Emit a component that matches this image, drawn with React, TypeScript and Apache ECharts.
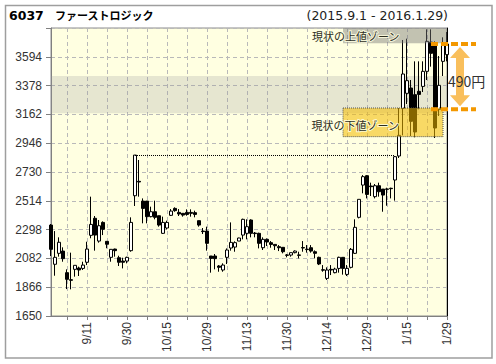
import React, { useEffect, useRef } from 'react';
import * as echarts from 'echarts';

// trading days (category axis)
const dates = [
  '8/31',
  '9/1', '9/2', '9/3', '9/4', '9/7', '9/8', '9/9', '9/10', '9/11', '9/14', '9/15', '9/16', '9/17', '9/18', '9/24', '9/25', '9/28', '9/29', '9/30',
  '10/1', '10/2', '10/5', '10/6', '10/7', '10/8', '10/9', '10/13', '10/14', '10/15', '10/16', '10/19', '10/20', '10/21', '10/22', '10/23', '10/26', '10/27', '10/28', '10/29', '10/30',
  '11/2', '11/4', '11/5', '11/6', '11/9', '11/10', '11/11', '11/12', '11/13', '11/16', '11/17', '11/18', '11/19', '11/20', '11/24', '11/25', '11/26', '11/27', '11/30',
  '12/1', '12/2', '12/3', '12/4', '12/7', '12/8', '12/9', '12/10', '12/11', '12/14', '12/15', '12/16', '12/17', '12/18', '12/21', '12/22', '12/24', '12/25', '12/28', '12/29', '12/30',
  '1/4', '1/5', '1/6', '1/7', '1/8', '1/12', '1/13', '1/14', '1/15', '1/18', '1/19', '1/20', '1/21', '1/22', '1/25', '1/26', '1/27', '1/28', '1/29',
];

const opens = [
  2332, 2038, 2120, 2137, 1975, 1922, 2000, 2010, 2007, 2053,
  2255, 2383, 2212, 2352, 2210, 2090, 2152, 2087, 2062, 2062,
  2140, 2552, 2660, 2512, 2512, 2395, 2432, 2402, 2270, 2310,
  2405, 2457, 2427, 2420, 2427, 2427, 2425, 2365, 2287, 2287,
  2100, 2100, 2025, 1995, 2090, 2160, 2167, 2212, 2257, 2270,
  2370, 2272, 2270, 2162, 2225, 2200, 2187, 2170, 2165, 2108,
  2107, 2125, 2108, 2163, 2151, 2162, 2132, 2090, 1997, 1932,
  2000, 1975, 2007, 2090, 1962, 2015, 2120, 2390, 2632, 2702,
  2625, 2545, 2627, 2602, 2603, 2608, 2670, 2850, 3207, 3320,
  3360, 3310, 3335, 3372, 3485, 3705, 3700, 3200, 3560, 3610,
];
const closes = [
  2150, 2090, 2203, 2080, 1925, 1918, 2030, 1995, 2032, 2152,
  2337, 2257, 2327, 2300, 2188, 2150, 2140, 2053, 2053, 2090,
  2352, 2857, 2655, 2457, 2395, 2432, 2390, 2332, 2352, 2352,
  2437, 2440, 2415, 2407, 2412, 2420, 2412, 2332, 2283, 2195,
  2082, 2080, 2015, 2032, 2145, 2202, 2200, 2235, 2375, 2320,
  2270, 2268, 2195, 2225, 2205, 2187, 2177, 2162, 2132, 2105,
  2125, 2137, 2105, 2160, 2148, 2137, 2120, 2040, 1994, 1995,
  1995, 2002, 2090, 2007, 2007, 2150, 2315, 2525, 2695, 2562,
  2620, 2627, 2582, 2557, 2600, 2605, 2845, 3005, 3465, 3415,
  3110, 3030, 3312, 3485, 3710, 3620, 3060, 3380, 3700, 3690,
];
const lows = [
  2100, 1952, 2095, 2057, 1852, 1850, 1945, 1950, 1995, 2032,
  2233, 2140, 2200, 2257, 2158, 2057, 2095, 2025, 2007, 2045,
  2132, 2475, 2545, 2345, 2345, 2390, 2375, 2320, 2265, 2300,
  2400, 2432, 2400, 2395, 2402, 2395, 2390, 2320, 2265, 2140,
  1975, 2000, 1982, 1982, 2040, 2140, 2132, 2212, 2225, 2225,
  2240, 2240, 2157, 2145, 2175, 2162, 2145, 2137, 2120, 2090,
  2095, 2120, 2082, 2132, 2125, 2125, 2082, 2032, 1982, 1920,
  1957, 1970, 1975, 1960, 1950, 2007, 2115, 2382, 2570, 2532,
  2550, 2532, 2545, 2432, 2477, 2532, 2515, 2835, 3005, 3240,
  3000, 2990, 3200, 3330, 3420, 3520, 2985, 3150, 3450, 3560,
];
const highs = [
  2340, 2287, 2240, 2165, 2000, 2125, 2030, 2020, 2057, 2207,
  2545, 2400, 2370, 2360, 2212, 2152, 2155, 2102, 2087, 2095,
  2390, 2857, 2820, 2532, 2512, 2470, 2515, 2402, 2395, 2365,
  2452, 2465, 2452, 2420, 2450, 2450, 2440, 2365, 2310, 2320,
  2100, 2115, 2032, 2045, 2157, 2352, 2210, 2237, 2380, 2375,
  2375, 2280, 2275, 2240, 2232, 2212, 2187, 2182, 2165, 2115,
  2125, 2142, 2132, 2212, 2182, 2182, 2142, 2095, 2032, 2015,
  2032, 2012, 2095, 2090, 2032, 2160, 2375, 2525, 2707, 2707,
  2650, 2640, 2650, 2602, 2612, 2612, 2850, 3210, 3720, 3730,
  3420, 3560, 3560, 3560, 3800, 3800, 3710, 3600, 3740, 3780,
];

// y axis ticks
const yMin = 1650;
const yMax = 3810;
const yStep = 216;

// annotations
const resistanceLevel = 2857;
const resistanceFrom = '10/2';
const resistanceTo = '1/12';
const bandTop = 3450;
const bandBottom = 3170;
const upperZone = [3810, 3695];
const lowerZone = [3210, 2995];
const zoneFrom = '12/18';
const upperZoneTo = '1/29';
const lowerZoneTo = '1/28';
const rangeTop = 3690;
const rangeBottom = 3200;

const labelFont = 'Liberation Sans';
const cjkFont = '"Noto Sans CJK JP"';

export default function App() {
  const ref = useRef<HTMLDivElement>(null);
  useEffect(() => {
    const chart = echarts.init(ref.current as HTMLDivElement, null, { renderer: 'svg', width: 496, height: 364 });
    const candles = dates.map((_, i) => [opens[i], closes[i], lows[i], highs[i]]);
    const gridLine = { color: '#b9b9b9', type: [4, 3] as any, width: 1 };
    const option: any = {
      animation: false,
      backgroundColor: '#ffffff',
      grid: {
        left: 51, right: 49, top: 28, bottom: 48,
        show: true, backgroundColor: '#ffffe1', borderColor: '#8c8c8c', borderWidth: 1,
      },
      xAxis: {
        type: 'category',
        data: dates,
        boundaryGap: false,
        axisLine: { lineStyle: { color: '#808080', width: 1 } },
        axisTick: { show: true, length: 4, interval: (i: number) => i % 5 === 4, lineStyle: { color: '#808080' } },
        axisLabel: {
          interval: (i: number) => i % 10 === 9,
          rotate: 90, margin: 6, fontSize: 12, color: '#333', fontFamily: labelFont,
        },
        splitLine: { show: true, interval: (i: number) => i % 5 === 4, lineStyle: gridLine },
      },
      yAxis: [
        {
          type: 'value', min: yMin, max: yMax, interval: yStep,
          axisLine: { show: true, lineStyle: { color: '#808080' } },
          axisTick: { show: true, length: 5, lineStyle: { color: '#808080' } },
          axisLabel: {
            margin: 9, fontSize: 12, color: '#333', fontFamily: labelFont,
            formatter: (v: number) => (v >= yMax ? '' : String(v)),
          },
          splitLine: { show: true, lineStyle: gridLine },
        },
        {
          type: 'value', position: 'right', min: yMin, max: yMax,
          axisLine: { show: true, onZero: false, lineStyle: { color: '#000', width: 1 } },
          axisTick: { show: false }, axisLabel: { show: false }, splitLine: { show: false },
        },
      ],
      series: [
        {
          type: 'candlestick',
          data: candles,
          barWidth: 3,
          clip: false,
          itemStyle: {
            color: '#ffffff', color0: '#000000',
            borderColor: '#000000', borderColor0: '#000000', borderColorDoji: '#000000',
            borderWidth: 1,
          },
          markArea: {
            silent: true,
            itemStyle: { color: 'rgba(150,150,155,0.24)' },
            data: [[{ coord: [dates[0], bandTop] }, { coord: [dates[dates.length - 1], bandBottom] }]],
          },
          markLine: {
            silent: true,
            symbol: ['none', 'none'],
            label: { show: false },
            lineStyle: { type: 'dotted', color: '#000', width: 1 },
            data: [[{ coord: [resistanceFrom, resistanceLevel] }, { coord: [resistanceTo, resistanceLevel] }]],
          },
        },
        {
          type: 'line',
          data: [],
          z: 5,
          silent: true,
          markArea: {
            z: 5,
            silent: true,
            label: {
              show: true, position: 'insideLeft', fontSize: 11, color: '#2e2e1e', fontFamily: cjkFont,
              textBorderColor: 'rgba(255,255,225,0.85)', textBorderWidth: 2,
            },
            data: [
              [
                {
                  name: '現状の上値ゾーン', coord: [zoneFrom, upperZone[0]],
                  itemStyle: { color: 'rgba(120,120,120,0.45)' },
                  label: { offset: [-36, 0] },
                },
                { coord: [upperZoneTo, upperZone[1]] },
              ],
              [
                {
                  name: '現状の下値ゾーン', coord: [zoneFrom, lowerZone[0]],
                  itemStyle: { color: 'rgba(242,185,0,0.55)', borderColor: '#555', borderWidth: 1, borderType: 'dotted' },
                  label: { offset: [-36, 3] },
                },
                { coord: [lowerZoneTo, lowerZone[1]] },
              ],
            ],
          },
        },
      ],
    };
    chart.setOption(option);

    const yT = chart.convertToPixel({ yAxisIndex: 0 }, rangeTop) as number;
    const yB = chart.convertToPixel({ yAxisIndex: 0 }, rangeBottom) as number;
    const cx = 460;
    const t = yT + 3;
    const b = yB - 3;
    const arrow = [
      [cx, t], [cx + 10, t + 11], [cx + 4, t + 11], [cx + 4, b - 11], [cx + 10, b - 11],
      [cx, b], [cx - 10, b - 11], [cx - 4, b - 11], [cx - 4, t + 11], [cx - 10, t + 11],
    ];
    chart.setOption({
      graphic: [
        {
          type: 'rect', z: 20, silent: true,
          shape: { x: 5.5, y: 5.5, width: 486.5, height: 352.5 },
          style: { fill: 'none', stroke: '#9e9e9e', lineWidth: 1.5 },
        },
        {
          type: 'text', z: 20, x: 9, y: 15,
          style: { text: '6037', font: 'bold 12.5px "DejaVu Sans"', fill: '#000', textVerticalAlign: 'middle' },
        },
        {
          type: 'text', z: 20, x: 55, y: 15,
          style: { text: 'ファーストロジック', font: 'bold 11px "Noto Sans CJK JP"', fill: '#000', textVerticalAlign: 'middle' },
        },
        {
          type: 'text', z: 20, x: 448, y: 15,
          style: { text: '(2015.9.1 - 2016.1.29)', font: '12.5px "DejaVu Sans"', fill: '#222', textAlign: 'right', textVerticalAlign: 'middle' },
        },
        {
          type: 'polygon', z: 20, silent: true,
          shape: { points: arrow },
          style: { fill: '#f9bf5c' },
        },
        {
          type: 'line', z: 21, silent: true,
          shape: { x1: 431, y1: yT, x2: 476, y2: yT },
          style: { stroke: '#f39800', lineWidth: 4, lineDash: [7, 3] },
        },
        {
          type: 'line', z: 21, silent: true,
          shape: { x1: 431, y1: yB, x2: 476, y2: yB },
          style: { stroke: '#f39800', lineWidth: 4, lineDash: [7, 3] },
        },
        {
          type: 'text', z: 22, x: 448, y: (yT + yB) / 2 + 4,
          style: { text: '490円', font: '14px "Noto Sans CJK JP"', fill: '#333', textVerticalAlign: 'middle' },
        },
      ],
    });
    return () => chart.dispose();
  }, []);
  return <div ref={ref} style={{ position: 'fixed', left: 0, top: 0, width: 496, height: 364 }} />;
}
